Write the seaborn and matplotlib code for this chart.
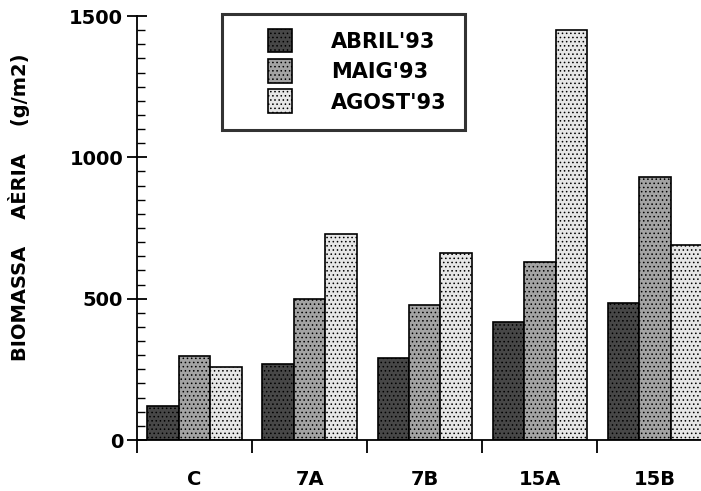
import matplotlib
matplotlib.use("Agg")
import matplotlib.pyplot as plt
import seaborn as sns
import pandas as pd
from matplotlib.ticker import MultipleLocator, FixedLocator
from matplotlib.patches import Patch, Rectangle
from matplotlib.legend_handler import HandlerPatch

categories = ["C", "7A", "7B", "15A", "15B"]
series = ["ABRIL'93", "MAIG'93", "AGOST'93"]
abril = [120, 269, 291, 418, 486]
maig = [297, 498, 478, 631, 931]
agost = [257, 729, 663, 1450, 690]

rows = []
for s, vals in zip(series, [abril, maig, agost]):
    for c, v in zip(categories, vals):
        rows.append({"cat": c, "serie": s, "val": v})
df = pd.DataFrame(rows)

sns.set_theme(style="ticks")
plt.rcParams["font.family"] = ["DejaVu Sans"]
plt.rcParams["font.weight"] = "bold"
plt.rcParams["hatch.linewidth"] = 0.6
for k in ["text.color", "axes.labelcolor", "xtick.color", "ytick.color",
          "axes.edgecolor", "xtick.labelcolor", "ytick.labelcolor"]:
    plt.rcParams[k] = "black"

colors = ["#474747", "#a3a3a3", "#e6e6e6"]
hatches = ["....", "....", "...."]

fig = plt.figure(figsize=(7.01, 4.91), dpi=100)
ax = fig.add_axes([137/701, 1 - 440/491, 1 - 137/701, (440 - 16)/491])

sns.barplot(data=df, x="cat", y="val", hue="serie", order=categories,
            hue_order=series, palette=colors, width=0.82, edgecolor="black",
            linewidth=1.2, saturation=1, ax=ax, legend=False)

for i, cont in enumerate(ax.containers):
    for bar in cont:
        bar.set_hatch(hatches[i])

ax.set_ylim(0, 1500)
ax.set_xlim(-0.5, 4.4)
ax.yaxis.set_major_locator(MultipleLocator(500))
ax.yaxis.set_minor_locator(MultipleLocator(50))
ax.tick_params(axis="y", which="major", direction="inout", length=14, width=1.3,
               labelsize=14, pad=3)
ax.tick_params(axis="y", which="minor", direction="in", length=6, width=1.0)
ax.xaxis.set_major_locator(FixedLocator([-0.5, 0.5, 1.5, 2.5, 3.5]))
ax.set_xticklabels([])
ax.tick_params(axis="x", which="major", direction="out", length=9, width=1.3)
for i, c in enumerate(categories):
    ax.text(i, -0.07, c, transform=ax.get_xaxis_transform(), ha="center",
            va="top", fontsize=14, fontweight="bold", color="black")
for lbl in ax.get_yticklabels():
    lbl.set_fontweight("bold")

ax.set_xlabel("")
ax.set_ylabel("BIOMASSA    AÈRIA    (g/m2)", fontsize=14, fontweight="bold")
ax.yaxis.set_label_coords(-0.19, 0.55)
sns.despine(ax=ax)
ax.spines["left"].set_linewidth(1.3)
ax.spines["bottom"].set_linewidth(1.3)


def square(legend, orig_handle, xdescent, ydescent, width, height, fontsize):
    side = 17
    return Rectangle((-xdescent + width - side, -ydescent + (height - side) / 2),
                     side, side)


handles = [Patch(facecolor=colors[i], edgecolor="black", hatch=hatches[i], linewidth=1.2)
           for i in range(3)]
leg = ax.legend(handles, series, loc="upper left",
                bbox_to_anchor=(222/701, 1 - 14/491), bbox_transform=fig.transFigure,
                fancybox=False, frameon=True, prop={"weight": "bold", "size": 15},
                handlelength=2.5, handleheight=0.8, handletextpad=1.9,
                borderpad=0.85, labelspacing=0.5, borderaxespad=0,
                handler_map={Patch: HandlerPatch(patch_func=square)})
leg.get_frame().set_edgecolor("black")
leg.get_frame().set_linewidth(2.2)

fig.savefig("out.png", dpi=100)
